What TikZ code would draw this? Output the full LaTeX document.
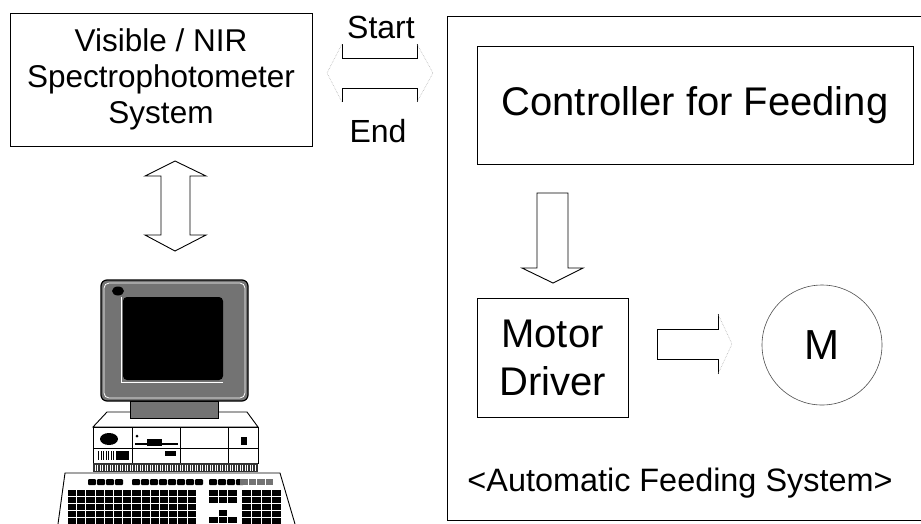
\documentclass[tikz,border=0pt]{standalone}
\usepackage{fontspec}
\setmainfont{Liberation Sans}

\colorlet{halftone}{black!55}
\tikzset{
  box/.style={draw, line width=0.9pt, align=center, inner sep=0pt},
  faint/.style={gray!60, line width=0.6pt, densely dotted},
  hollow/.style={line width=0.9pt, line join=miter},
}

\begin{document}
\begin{tikzpicture}[x=1pt, y=-1pt, line width=0.9pt]
\useasboundingbox (0,0) rectangle (921,523);

\node[box, minimum width=302pt, minimum height=133pt, font=\fontsize{31.5}{36}\selectfont]
  (spectro) at (161,79.5) {Visible / NIR\\Spectrophotometer\\System};

\node[anchor=base, font=\fontsize{32}{36}\selectfont] (start) at (381,38) {Start};
\node[anchor=base, font=\fontsize{32}{36}\selectfont] (end) at (378,142) {End};

% start / end signal
\draw[hollow] (342,44) -- (342,58) -- (417,58) -- (417,44);
\draw[hollow] (342,102) -- (342,88) -- (417,88) -- (417,102);
\draw[faint] (342,44) -- (327,73) -- (342,102);
\draw[faint] (417,44) -- (433,73) -- (417,102);

% feeding system
\draw (921,16) -- (447,16) -- (447,520) -- (921,520);
\node[box, minimum width=436pt, minimum height=118pt, font=\fontsize{40}{48}\selectfont]
  (ctrl) at (695,105) {Controller for Feeding};
\node[box, minimum width=151pt, minimum height=119pt, font=\fontsize{40}{48}\selectfont]
  (driver) at (552.5,357.5) {Motor\\Driver};
\node[circle, draw=black!70, line width=0.6pt, minimum size=120pt, font=\fontsize{42}{48}\selectfont]
  (motor) at (822,345) {M};
\node[anchor=base, font=\fontsize{32.4}{38}\selectfont] (afs) at (680,491) {<Automatic Feeding System>};

\draw[hollow] (537,193) -- (568,193) -- (568,268) -- (583,268) -- (553,283) -- (522,268) -- (537,268) -- cycle;
\draw[hollow] (718,314) -- (718,329) -- (657,329) -- (657,359) -- (718,359) -- (718,374);
\draw[faint] (718,314) -- (732,344) -- (718,374);

% data link
\draw[hollow] (175,161) -- (206,176) -- (190,176) -- (190,235) -- (206,235) -- (175,251)
  -- (145,235) -- (161,235) -- (161,176) -- (145,176) -- cycle;

% monitor
\draw[line width=1.2pt, rounded corners=6pt, fill=halftone] (101,280) rectangle (248,401);
\draw[white, line width=0.8pt, rounded corners=5pt] (104,283) rectangle (245,398);
\draw[white, line width=1pt] (121,297) -- (121,382) -- (223,382);
\fill[rounded corners=4pt] (123,297) rectangle (223,380);
\fill (118,291) ellipse [x radius=6pt, y radius=4.5pt];

% system unit
\draw[fill=white] (93,427) -- (107,412) -- (247,412) -- (258,427) -- cycle;
\draw[fill=white] (93,427) rectangle (258,463);
\fill[black!80] (93,463) rectangle (258,472);
\foreach \x in {95,97.5,...,256}
  \draw[white, line width=0.6pt] (\x,464.5) -- (\x,470.5);
\draw[fill=halftone] (130,401) rectangle (218,418);
\draw[line width=0.6pt] (132,427) -- (132,463) (180,427) -- (180,463) (228,427) -- (228,463) (93,448) -- (258,448);
\fill (109,439) ellipse [x radius=9pt, y radius=6pt];
\foreach \x in {98,100.5,...,116}
  \fill (\x,451) rectangle +(1.3,9);
\fill (117,451) rectangle (129,460);
\fill (137,436) circle [radius=1.5pt];
\draw[line width=1.2pt] (135,444) -- (178,444);
\fill (147,439) rectangle (162,446);
\fill (165,451) rectangle (176,456);
\fill (241,437) rectangle (247,445);

% keyboard
\draw[fill=white] (58,524) -- (65,473) -- (280,473) -- (295,524);
\foreach \x in {88,132,168,209}
  \foreach \k in {0,...,3}
    \fill[rounded corners=1pt] (\x+\k*9,479) rectangle +(8,6);
\foreach \k in {0,...,3}
  \fill[halftone] (240+\k*8.5,479) rectangle +(7.5,6);
\foreach \r in {0,...,4}
  \foreach \k in {0,...,13}
    \fill (68+\k*9.2,490+\r*7) rectangle +(8.2,5.8);
\foreach \r in {0,1}
  \foreach \k in {0,1,2}
    \fill (209+\k*9.5,490+\r*7) rectangle +(8.5,5.8);
\fill (218.5,510) rectangle +(8.5,5.8);
\foreach \k in {0,1,2}
  \fill (209+\k*9.5,517) rectangle +(8.5,5.8);
\foreach \r in {0,...,4}
  \foreach \k in {0,...,3}
    \fill (242+\k*10,490+\r*7) rectangle +(9,5.8);
\end{tikzpicture}
\end{document}
